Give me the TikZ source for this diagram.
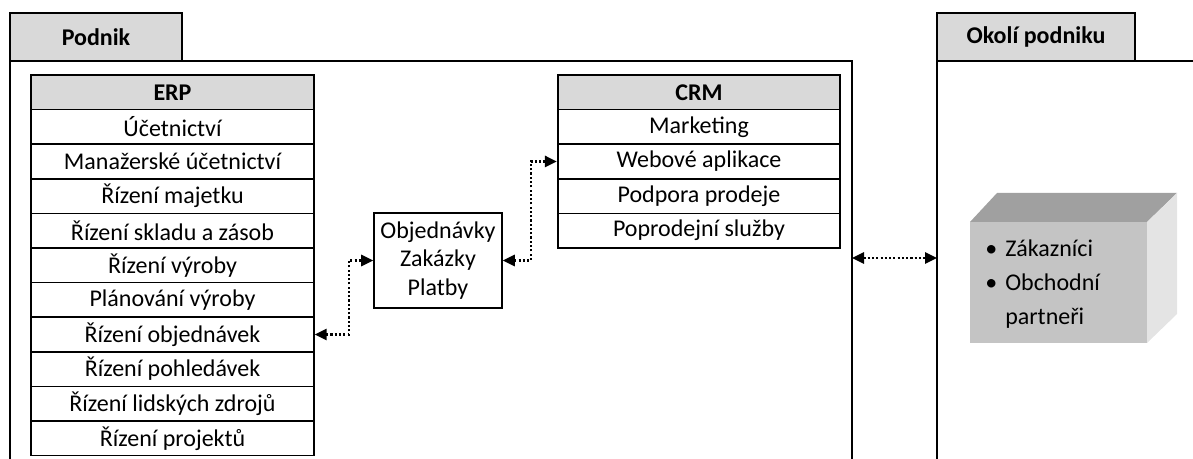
\documentclass[tikz,border=0pt]{standalone}
\usepackage{fontspec}
\setmainfont{Carlito}
\usepackage{xcolor}
\usetikzlibrary{arrows.meta}
\usetikzlibrary{calc}

\definecolor{headgray}{RGB}{217,217,217}
\definecolor{cubefront}{RGB}{196,196,196}
\definecolor{cubetop}{RGB}{160,160,160}
\definecolor{cubeside}{RGB}{228,228,228}

\tikzset{
    frameline/.style={line width=1.3pt},
    tabbox/.style={draw, line width=1.3pt, fill=headgray},
    cell/.style={draw, line width=1.3pt, minimum width=212pt, minimum height=25.95pt, inner sep=0pt},
    headcell/.style={cell, fill=headgray, font=\fontsize{18}{21.6}\selectfont\bfseries},
    link/.style={line width=1.6pt, dash pattern=on 1.6pt off 1.6pt, {Triangle[length=9pt,width=8.5pt]}-{Triangle[length=9pt,width=8.5pt]}}
}

\begin{document}
\begin{tikzpicture}[x=0.75pt,y=0.75pt,yscale=-1,font=\fontsize{18}{21.6}\selectfont]
        \useasboundingbox (0,0) rectangle (1193,459);

        % Frames
        \draw [frameline] (10,459) -- (10,61) -- (852,61) -- (852,459) ;
        \draw [frameline] (937,459) -- (937,61) -- (1193,61) ;
        \draw [tabbox] (10,13) rectangle (182,61) ;
        \draw [tabbox] (937,13) rectangle (1135,61) ;
        \node [font=\fontsize{18}{21.6}\selectfont\bfseries] (podnik) at (96,37) {Podnik};
        \node [font=\fontsize{18}{21.6}\selectfont\bfseries] (okoli) at (1036,37) {Okolí podniku};

        % ERP table
        \node [headcell] (erp0) at (172.5,92.3) {ERP};
        \foreach \name [count=\i] in {Účetnictví, Manažerské účetnictví, Řízení majetku, Řízení skladu a zásob, Řízení výroby, Plánování výroby, Řízení objednávek, Řízení pohledávek, Řízení lidských zdrojů, Řízení projektů}
            \node [cell] (erp\i) at (172.5,{92.3+34.6*\i}) {\name};

        % CRM table
        \node [headcell] (crm0) at (699,92.3) {CRM};
        \foreach \name [count=\i] in {Marketing, Webové aplikace, Podpora prodeje, Poprodejní služby}
            \node [cell] (crm\i) at (699,{92.3+34.6*\i}) {\name};

        % Middle box
        \node [draw, line width=1.3pt, minimum width=96pt, minimum height=71.25pt, align=center, inner sep=0pt] (obj) at (438,260.5) {Objednávky\\Zakázky\\Platby};

        % Cube
        \fill [cubetop] (970,222) -- (997,193) -- (1177,193) -- (1147,222) -- cycle ;
        \fill [cubeside] (1147,222) -- (1177,193) -- (1177,314) -- (1147,343) -- cycle ;
        \fill [cubefront] (970,222) rectangle (1147,343) ;
        \node [anchor=west, align=left, inner sep=0pt, font=\fontsize{18}{25.5}\selectfont] (partneri) at (985,284) {\makebox[15pt][l]{•}Zákazníci\\\makebox[15pt][l]{•}Obchodní\\\hspace*{15pt}partneři};

        % Connectors
        \coordinate (podR) at (852,258);
        \coordinate (okoL) at (937,258);
        \draw [link] (erp7.east) -- ++(34,0) |- (obj.west) ;
        \draw [link] (obj.east) -- ++(28,0) |- (crm2.west) ;
        \draw [link] (podR) -- (okoL) ;
\end{tikzpicture}
\end{document}
